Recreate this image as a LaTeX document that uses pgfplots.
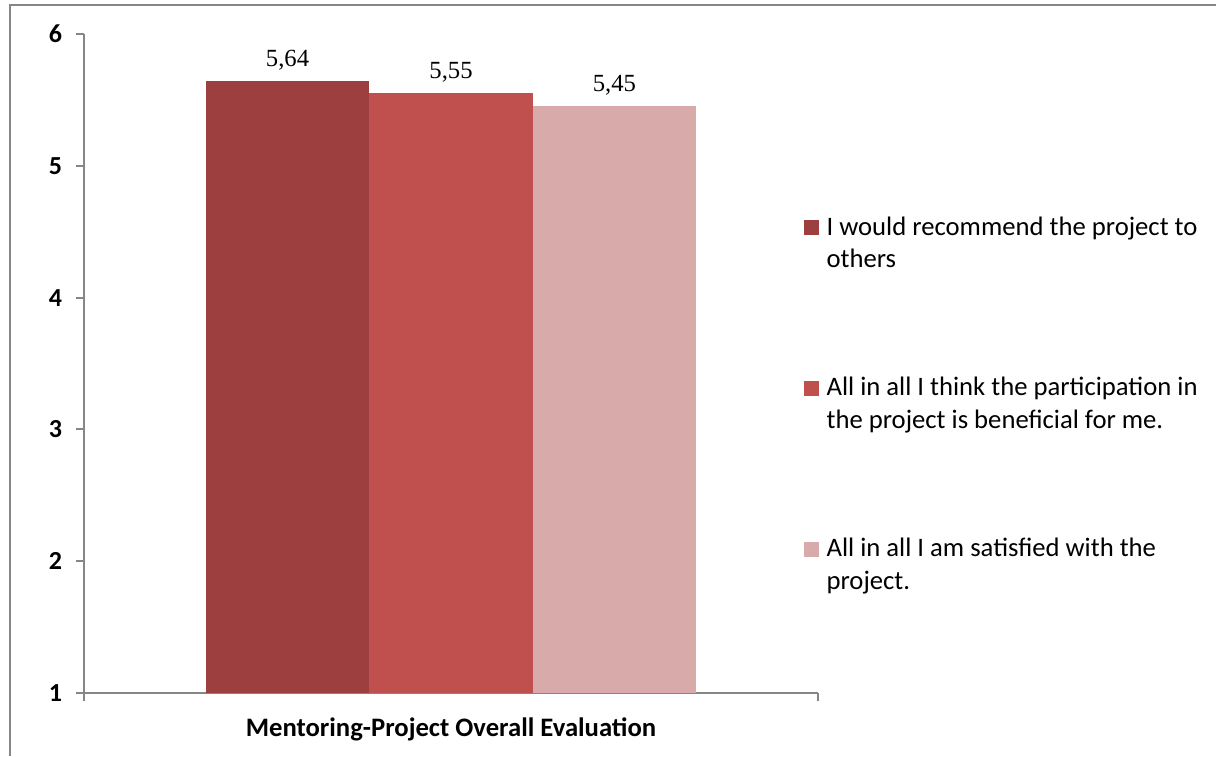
\documentclass[border=0pt]{standalone}
\usepackage{fontspec}
\setmainfont{Carlito}
\newfontfamily\valfont{Liberation Serif}
\usepackage{pgfplots}
\pgfplotsset{compat=1.18}
\definecolor{c1}{HTML}{9E3F3F}
\definecolor{c2}{HTML}{C0504D}
\definecolor{c3}{HTML}{D9AAAA}
\definecolor{axgray}{HTML}{868686}
\begin{document}
\begin{tikzpicture}
\path[use as bounding box] (0pt,0pt) rectangle (912pt,-567pt);
\draw[axgray, line width=1.5pt] (7.5pt,-567pt) -- (7.5pt,-3.75pt) -- (912pt,-3.75pt);
\begin{axis}[
  at={(63pt,-519.75pt)}, anchor=south west,
  width=550.5pt, height=494.25pt, scale only axis,
  xmin=-0.5, xmax=0.5, ymin=1, ymax=6,
  ybar, bar width=122.6pt,
  axis x line*=bottom, axis y line*=left,
  axis line style={axgray, line width=1.5pt, -},
  xtick={-0.5,0.5}, xticklabels={,},
  ytick={1,2,3,4,5,6},
  tick style={axgray, line width=1.5pt},
  tick align=outside, major tick length=6pt,
  yticklabel style={font=\fontsize{19.5}{22}\selectfont\bfseries, xshift=-7pt},
  /pgf/number format/assume math mode=true,
  xlabel={Mentoring-Project Overall Evaluation},
  every axis x label/.style={at={(axis description cs:0.5,0)}, anchor=base, yshift=-32.25pt, font=\fontsize{20}{22}\selectfont\bfseries},
  nodes near coords={\pgfmathprintnumber[fixed,fixed zerofill,precision=2,use comma,assume math mode=true]{\pgfplotspointmeta}},
  every node near coord/.append style={anchor=base, yshift=11.25pt, inner sep=0pt, font=\valfont\fontsize{18.5}{22}\selectfont, text=black},
  legend style={at={(rel axis cs:0.98,0.734)}, anchor=north west, draw=none, fill=none,
    font=\fontsize{20}{24.4}\selectfont, row sep=98pt, inner sep=0pt,
    cells={anchor=base west},
    /tikz/every odd column/.append style={column sep=4pt}},
  legend image code/.code={\fill[#1,draw=none] (0pt,0pt) rectangle (11.25pt,11.25pt);},
  clip=false,
]
\addplot[fill=c1, draw=none, bar shift=-122.6pt] coordinates {(0,5.64)};
\addlegendentry{\begin{tabular}[t]{@{}l@{}}I would recommend the project to\\others\end{tabular}}
\addplot[fill=c2, draw=none, bar shift=0pt] coordinates {(0,5.55)};
\addlegendentry{\begin{tabular}[t]{@{}l@{}}All in all I think the participation in\\the project is beneficial for me.\end{tabular}}
\addplot[fill=c3, draw=none, bar shift=122.6pt] coordinates {(0,5.45)};
\addlegendentry{\begin{tabular}[t]{@{}l@{}}All in all I am satisfied with the\\project.\end{tabular}}
\end{axis}
\end{tikzpicture}
\end{document}
